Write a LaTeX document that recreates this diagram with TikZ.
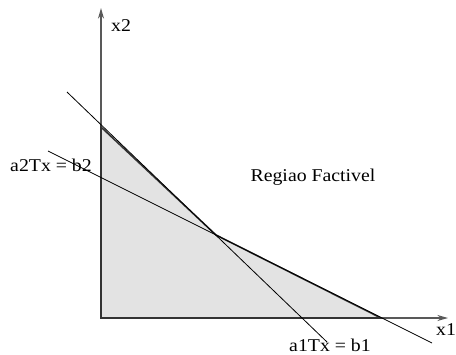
\documentclass[tikz,border=0pt]{standalone}
\usepackage{fontspec}
\setmainfont{Liberation Serif}[FakeStretch=1.1]
\usetikzlibrary{arrows.meta}

\begin{document}
\begin{tikzpicture}[x=0.75pt, y=-0.75pt, line width=0.6pt,
    eixo/.style={draw=black!65, line width=1.1pt, -{Stealth[length=8pt,width=4.5pt]}},
    reta/.style={draw=black, line width=0.6pt},
    rotulo/.style={font=\fontsize{13.5}{16}\selectfont, inner sep=0pt}]
    \useasboundingbox (0,0) rectangle (456,354);

    % vertices of the region
    \coordinate (O) at (101,318);
    \coordinate (P) at (101,127);
    \coordinate (Q) at (216,235);
    \coordinate (R) at (381,318);

    % axis ends
    \coordinate (X) at (448,318);
    \coordinate (Y) at (101,8);

    % ends of the two lines
    \coordinate (A1) at (67,92);
    \coordinate (B1) at (327,342);
    \coordinate (A2) at (48,151);
    \coordinate (B2) at (432,343);

    \fill[black!11] (O) -- (P) -- (Q) -- (R) -- cycle;
    \draw[eixo] (O) -- (X);
    \draw[eixo] (O) -- (Y);
    \draw[black!80, line width=1.2pt] (O) -- (P) -- (Q) -- (R) -- cycle;
    \draw[reta] (A1) -- (B1);
    \draw[reta] (A2) -- (B2);

    \node[rotulo] (x2) at (121,26) {x2};
    \node[rotulo] (x1) at (446,330) {x1};
    \node[rotulo] (r2) at (51,165) {a2Tx = b2};
    \node[rotulo] (r1) at (330,345) {a1Tx = b1};
    \node[rotulo] (reg) at (313,177) {Regiao Factivel};
\end{tikzpicture}
\end{document}
